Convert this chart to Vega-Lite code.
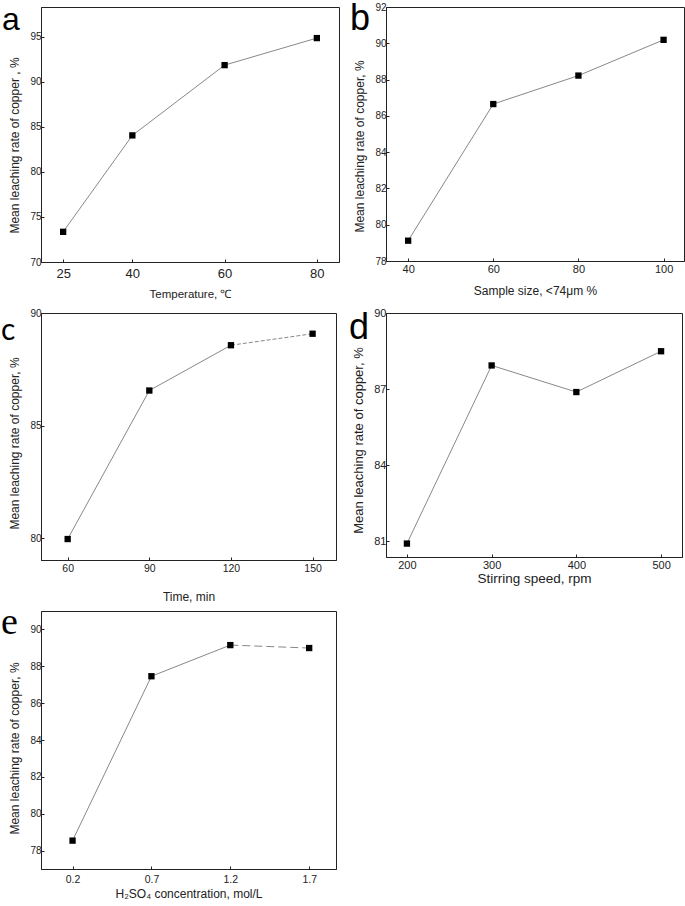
{
  "$schema": "https://vega.github.io/schema/vega-lite/v6.json",
  "padding": {"left": 0, "top": 0, "right": 0, "bottom": 0},
  "background": "white",
  "columns": 2,
  "spacing": {"row": 51, "column": 47},
  "bounds": "flush",
  "align": "each",
  "data": {"values": [
    {"panel": "a", "x": 25, "y": 73.35},
    {"panel": "a", "x": 40, "y": 84.05},
    {"panel": "a", "x": 60, "y": 91.85},
    {"panel": "a", "x": 80, "y": 94.85},
    {"panel": "b", "x": 40, "y": 79.12},
    {"panel": "b", "x": 60, "y": 86.65},
    {"panel": "b", "x": 80, "y": 88.22},
    {"panel": "b", "x": 100, "y": 90.19},
    {"panel": "c", "x": 60, "y": 79.97},
    {"panel": "c", "x": 90, "y": 86.56},
    {"panel": "c", "x": 120, "y": 88.57},
    {"panel": "c", "x": 150, "y": 89.08},
    {"panel": "d", "x": 200, "y": 80.9},
    {"panel": "d", "x": 300, "y": 87.93},
    {"panel": "d", "x": 400, "y": 86.88},
    {"panel": "d", "x": 500, "y": 88.49},
    {"panel": "e", "x": 0.2, "y": 78.54},
    {"panel": "e", "x": 0.7, "y": 87.46},
    {"panel": "e", "x": 1.2, "y": 89.15},
    {"panel": "e", "x": 1.7, "y": 88.99}
  ]},
  "config": {
    "view": {"stroke": "#222", "strokeWidth": 1},
    "axis": {"domainColor": "#222", "tickColor": "#222", "tickSize": -3, "grid": false, "labelFont": "Liberation Sans", "titleFont": "Liberation Sans", "titleFontWeight": "normal", "labelColor": "#222", "titleColor": "#222", "labelFontSize": 10, "titleFontSize": 12},
    "axisX": {"labelPadding": 8, "titlePadding": 8},
    "axisY": {"labelPadding": 3, "titlePadding": 8},
    "title": {"anchor": "start", "frame": "group", "fontWeight": "normal", "color": "#000", "offset": 0, "baseline": "alphabetic"}
  },
  "concat": [
    {
      "width": 298, "height": 255,
      "title": {"text": "a", "font": "Liberation Sans", "fontSize": 32, "dx": -39, "dy": 34},
      "transform": [{"filter": "datum.panel == 'a'"}],
      "encoding": {
        "x": {"field": "x", "type": "quantitative", "scale": {"domain": [20.2, 84.8], "nice": false, "zero": false},
              "axis": {"values": [25, 40, 60, 80], "format": "d", "title": "Temperature, ℃", "labelFontSize": 13, "titleFontSize": 11.5}},
        "y": {"field": "y", "type": "quantitative", "scale": {"domain": [70, 98.3], "nice": false, "zero": false},
              "axis": {"values": [70, 75, 80, 85, 90, 95], "format": "d", "title": "Mean leaching rate of copper , %", "titleY": 138}}
      },
      "layer": [
        {"mark": {"type": "line", "color": "#888", "strokeWidth": 1}},
        {"mark": {"type": "point", "shape": "square", "filled": true, "color": "#000", "opacity": 1, "size": 40}}
      ]
    },
    {
      "width": 298, "height": 254,
      "title": {"text": "b", "font": "Liberation Sans", "fontSize": 36, "dx": -36, "dy": 40},
      "transform": [{"filter": "datum.panel == 'b'"}],
      "encoding": {
        "x": {"field": "x", "type": "quantitative", "scale": {"domain": [34.8, 104.8], "nice": false, "zero": false},
              "axis": {"values": [40, 60, 80, 100], "format": "d", "title": "Sample size, <74μm %", "labelFontSize": 11, "labelPadding": 5, "titlePadding": 11}},
        "y": {"field": "y", "type": "quantitative", "scale": {"domain": [78, 92], "nice": false, "zero": false},
              "axis": {"values": [78, 80, 82, 84, 86, 88, 90, 92], "format": "d", "title": "Mean leaching rate of copper, %", "titleY": 139}}
      },
      "layer": [
        {"mark": {"type": "line", "color": "#888", "strokeWidth": 1}},
        {"mark": {"type": "point", "shape": "square", "filled": true, "color": "#000", "opacity": 1, "size": 40}}
      ]
    },
    {
      "width": 295, "height": 247,
      "title": {"text": "c", "font": "Lato", "fontSize": 30, "dx": -40, "dy": 42},
      "transform": [{"filter": "datum.panel == 'c'"}],
      "encoding": {
        "x": {"field": "x", "type": "quantitative", "scale": {"domain": [50.2, 158.6], "nice": false, "zero": false},
              "axis": {"values": [60, 90, 120, 150], "format": "d", "title": "Time, min", "labelFontSize": 10.5, "labelPadding": 6, "titlePadding": 18}},
        "y": {"field": "y", "type": "quantitative", "scale": {"domain": [79.04, 90], "nice": false, "zero": false},
              "axis": {"values": [80, 85, 90], "format": "d", "title": "Mean leaching rate of copper, %", "titleY": 130}}
      },
      "layer": [
        {"transform": [{"filter": "datum.x <= 120"}], "mark": {"type": "line", "color": "#888", "strokeWidth": 1}},
        {"transform": [{"filter": "datum.x >= 120"}], "mark": {"type": "line", "color": "#888", "strokeWidth": 1, "strokeDash": [4, 2]}},
        {"mark": {"type": "point", "shape": "square", "filled": true, "color": "#000", "opacity": 1, "size": 40}}
      ]
    },
    {
      "width": 296, "height": 244,
      "title": {"text": "d", "font": "Liberation Sans", "fontSize": 36, "dx": -37, "dy": 44},
      "transform": [{"filter": "datum.panel == 'd'"}],
      "encoding": {
        "x": {"field": "x", "type": "quantitative", "scale": {"domain": [175.3, 524.7], "nice": false, "zero": false},
              "axis": {"values": [200, 300, 400, 500], "format": "d", "title": "Stirring speed, rpm", "labelFontSize": 11, "titleFontSize": 13.5, "labelPadding": 5, "titlePadding": 1}},
        "y": {"field": "y", "type": "quantitative", "scale": {"domain": [80.37, 90], "nice": false, "zero": false},
              "axis": {"values": [81, 84, 87, 90], "format": "d", "title": "Mean leaching rate of copper, %", "titleY": 127, "labelFontSize": 11, "titleFontSize": 13}}
      },
      "layer": [
        {"mark": {"type": "line", "color": "#888", "strokeWidth": 1}},
        {"mark": {"type": "point", "shape": "square", "filled": true, "color": "#000", "opacity": 1, "size": 40}}
      ]
    },
    {
      "width": 295, "height": 258,
      "title": {"text": "e", "font": "Liberation Serif", "fontSize": 38, "dx": -40, "dy": 35},
      "transform": [{"filter": "datum.panel == 'e'"}],
      "encoding": {
        "x": {"field": "x", "type": "quantitative", "scale": {"domain": [0.0, 1.87], "nice": false, "zero": false},
              "axis": {"values": [0.2, 0.7, 1.2, 1.7], "format": ".1f", "title": "H₂SO₄ concentration, mol/L", "labelFontSize": 10.5, "titlePadding": 4}},
        "y": {"field": "y", "type": "quantitative", "scale": {"domain": [77, 91], "nice": false, "zero": false},
              "axis": {"values": [78, 80, 82, 84, 86, 88, 90], "format": "d", "title": "Mean leaching rate of copper, %", "titleY": 137}}
      },
      "layer": [
        {"transform": [{"filter": "datum.x <= 1.2"}], "mark": {"type": "line", "color": "#888", "strokeWidth": 1}},
        {"transform": [{"filter": "datum.x >= 1.2"}], "mark": {"type": "line", "color": "#888", "strokeWidth": 1, "strokeDash": [8, 4]}},
        {"mark": {"type": "point", "shape": "square", "filled": true, "color": "#000", "opacity": 1, "size": 40}}
      ]
    }
  ]
}
